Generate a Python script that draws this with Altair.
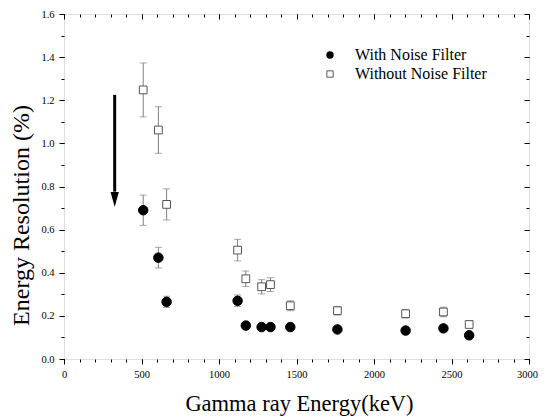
import altair as alt
import pandas as pd

energies = [511, 609, 662, 1120, 1173, 1275, 1332, 1460, 1764, 2204, 2448, 2614]
with_filter = [0.69, 0.47, 0.265, 0.27, 0.155, 0.148, 0.148, 0.148, 0.137, 0.132, 0.142, 0.11]
with_err = [0.07, 0.048, 0.026, 0.027, 0.006, 0.006, 0.006, 0.006, 0.006, 0.006, 0.006, 0.006]
without_filter = [1.248, 1.062, 0.717, 0.505, 0.372, 0.335, 0.345, 0.247, 0.224, 0.21, 0.218, 0.16]
without_err = [0.125, 0.108, 0.072, 0.05, 0.036, 0.033, 0.032, 0.023, 0.02, 0.02, 0.022, 0.006]
series_names = ["With Noise Filter", "Without Noise Filter"]

arrow_x = [327]
arrow_top = [1.225]
arrow_base = [0.776]
arrow_tip_mid = [0.74]

x_major = [0, 500, 1000, 1500, 2000, 2500]
x_last = [3000]
x_minor = list(range(0, 3001, 100))
y_major = [0.0, 0.2, 0.4, 0.6, 0.8, 1.0, 1.2, 1.4, 1.6]
y_minor = [round(i * 0.1, 1) for i in range(17)]

rows = []
for e, v, er in zip(energies, with_filter, with_err):
    rows.append({"E": e, "R": v, "lo": v - er, "hi": v + er, "series": series_names[0]})
for e, v, er in zip(energies, without_filter, without_err):
    rows.append({"E": e, "R": v, "lo": v - er, "hi": v + er, "series": series_names[1]})
df = pd.DataFrame(rows)
arrow_df = pd.DataFrame({"x": arrow_x, "y1": arrow_top, "y2": arrow_base, "ym": arrow_tip_mid})

W, H = 465, 345
FONT = "Liberation Serif"

xs = alt.Scale(domain=[0, 3000], nice=False, zero=False)
ys = alt.Scale(domain=[0, 1.6], nice=False, zero=False)

def ax(**kw):
    base = dict(domain=False, tickColor="black", labelFont=FONT, labelFontSize=10.5, labelColor="black",
                grid=False, labelFlush=False, labelOverlap=False)
    base.update(kw)
    return alt.Axis(**base)

base = alt.Chart(df)

errbar = base.mark_rule(color="#808080", strokeWidth=1).encode(
    x=alt.X("E:Q", scale=xs, axis=ax(orient="bottom", values=x_major, tickSize=5, format="d", labelPadding=5,
                                      title="Gamma ray Energy(keV)", titleFont=FONT, titleFontSize=22.5,
                                      titleFontWeight="normal", titleColor="black",
                                      titleX=235, titleY=51, titleBaseline="alphabetic", titleAlign="center")),
    y=alt.Y("lo:Q", scale=ys, axis=ax(orient="left", values=y_major, tickSize=5, format=".1f", labelPadding=5,
                                       title="Energy Resolution (%)", titleFont=FONT, titleFontSize=24,
                                       titleFontWeight="normal", titleColor="black", titleAngle=270,
                                       titleX=-36, titleY=201, titleBaseline="alphabetic", titleAlign="center")),
    y2="hi:Q",
)
cap_lo = base.mark_tick(color="#808080", orient="horizontal", size=7, thickness=1).encode(
    x=alt.X("E:Q", scale=xs, axis=ax(orient="bottom", values=x_minor, tickSize=3, labels=False, title=None)),
    y=alt.Y("lo:Q", scale=ys, axis=ax(orient="left", values=y_minor, tickSize=3, labels=False, title=None)),
)
cap_hi = base.mark_tick(color="#808080", orient="horizontal", size=7, thickness=1).encode(
    x=alt.X("E:Q", scale=xs, axis=ax(orient="bottom", offset=-H, values=x_major + x_last, tickSize=5, labels=False, title=None)),
    y=alt.Y("hi:Q", scale=ys, axis=ax(orient="left", offset=-W, values=y_major, tickSize=5, labels=False, title=None)),
)
points = base.mark_point(filled=False, opacity=1, strokeWidth=1).encode(
    x=alt.X("E:Q", scale=xs, axis=ax(orient="bottom", offset=-H, values=x_minor, tickSize=3, labels=False, title=None)),
    y=alt.Y("R:Q", scale=ys, axis=ax(orient="left", offset=-W, values=y_minor, tickSize=3, labels=False, title=None)),
    shape=alt.Shape("series:N", scale=alt.Scale(domain=series_names, range=["circle", "square"]), legend=None),
    fill=alt.Fill("series:N", scale=alt.Scale(domain=series_names, range=["black", "white"]), legend=None),
    stroke=alt.Stroke("series:N", scale=alt.Scale(domain=series_names, range=["black", "#555555"]), legend=None),
    size=alt.Size("series:N", scale=alt.Scale(domain=series_names, range=[90, 60]), legend=None),
)

arrow_shaft = alt.Chart(arrow_df).mark_rule(color="black", strokeWidth=3).encode(
    x=alt.X("x:Q", scale=xs, axis=ax(orient="bottom", values=x_last, tickSize=5, format="d", labelPadding=5,
                                      labelOffset=-2, title=None)),
    y=alt.Y("y1:Q", scale=ys, axis=None), y2="y2:Q")
arrow_head = alt.Chart(arrow_df).mark_point(shape="M-0.55,-1L0.55,-1L0,1Z", filled=True, color="black",
                                             size=225, opacity=1).encode(
    x=alt.X("x:Q", scale=xs, axis=None), y=alt.Y("ym:Q", scale=ys, axis=None))

# legend (drawn as marks, positioned in pixels inside the plot)
leg1 = pd.DataFrame({"label": [series_names[0]]})
leg2 = pd.DataFrame({"label": [series_names[1]]})
leg_sym1 = alt.Chart(leg1).mark_point(shape="circle", filled=True, color="black", size=55, opacity=1).encode(
    x=alt.value(266), y=alt.value(41))
leg_sym2 = alt.Chart(leg2).mark_point(shape="square", filled=False, color="#555555", size=40, opacity=1,
                                      strokeWidth=1).encode(x=alt.value(266), y=alt.value(60))
leg_txt1 = alt.Chart(leg1).mark_text(align="left", baseline="alphabetic", font=FONT, fontSize=16,
                                     color="black").encode(x=alt.value(291), y=alt.value(45.5), text="label:N")
leg_txt2 = alt.Chart(leg2).mark_text(align="left", baseline="alphabetic", font=FONT, fontSize=16,
                                     color="black").encode(x=alt.value(291), y=alt.value(65), text="label:N")

chart = alt.layer(errbar, cap_lo, cap_hi, points, arrow_shaft, arrow_head,
                  leg_sym1, leg_sym2, leg_txt1, leg_txt2).resolve_axis(
    x="independent", y="independent"
).properties(
    width=W, height=H, autosize=alt.AutoSizeParams(type="none"),
    padding={"left": 56, "top": 6, "right": 9, "bottom": 58},
).configure_view(stroke="black", strokeWidth=1).configure(background="white")

chart.save("out.html", embed_options={"renderer": "svg", "actions": False})
